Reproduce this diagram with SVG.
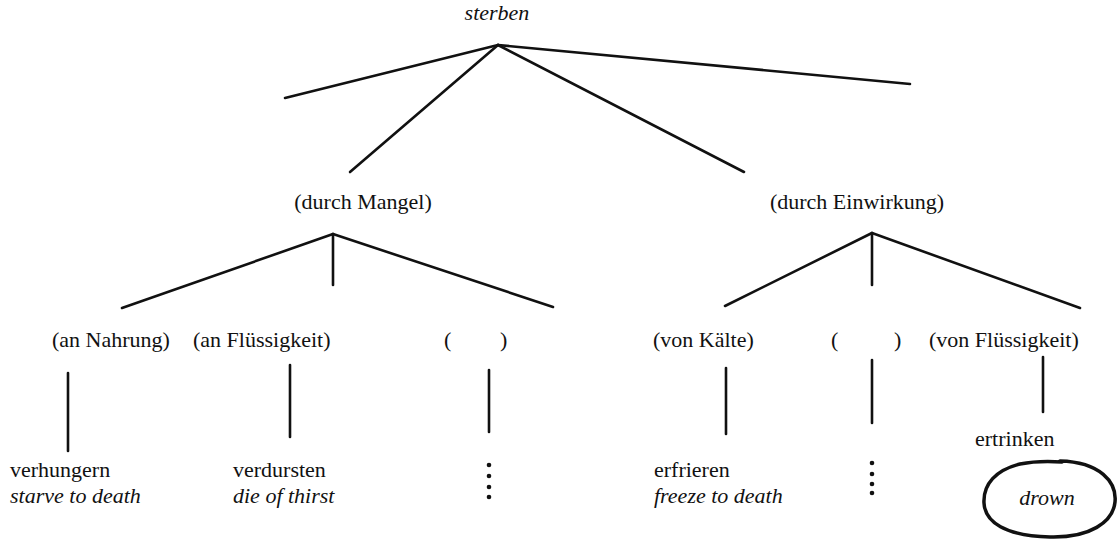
<svg xmlns="http://www.w3.org/2000/svg" width="1117" height="540" viewBox="0 0 1117 540">
<style>
text{font-size:22px;fill:#111}
.i{font-style:italic}
.m{text-anchor:middle}
.e line{stroke:#111;stroke-width:2.6;stroke-linecap:round}
.dot{fill:#111}
</style>
<rect width="1117" height="540" fill="#fff"/>
<g class="e" id="connectors">
<line x1="498" y1="45" x2="285" y2="98"/>
<line x1="498" y1="45" x2="350" y2="172"/>
<line x1="498" y1="45" x2="744" y2="172"/>
<line x1="498" y1="45" x2="910" y2="84"/>
<line x1="333" y1="234" x2="122" y2="308"/>
<line x1="333" y1="234" x2="333" y2="285"/>
<line x1="333" y1="234" x2="553" y2="307"/>
<line x1="872" y1="233" x2="725" y2="306"/>
<line x1="872" y1="233" x2="872" y2="285"/>
<line x1="872" y1="233" x2="1080" y2="308"/>
<line x1="68" y1="373" x2="68" y2="451"/>
<line x1="290" y1="365" x2="290" y2="437"/>
<line x1="489" y1="370" x2="489" y2="432"/>
<line x1="726" y1="368" x2="726" y2="434"/>
<line x1="872" y1="360" x2="872" y2="423"/>
<line x1="1043" y1="357" x2="1043" y2="412"/>
</g>
<g font-family="'Liberation Serif', 'DejaVu Serif', serif">
<g id="n-sterben"><text class="i m" x="497" y="20">sterben</text></g>
<g id="n-mangel"><text class="m" x="363" y="209">(durch Mangel)</text></g>
<g id="n-einwirkung"><text class="m" x="857" y="209">(durch Einwirkung)</text></g>
<g id="n-nahrung"><text x="52" y="347">(an Nahrung)</text></g>
<g id="n-fluessigkeit1"><text x="193" y="347">(an Flüssigkeit)</text></g>
<g id="n-empty1"><text x="444" y="347">(</text><text x="500" y="347">)</text></g>
<g id="n-kaelte"><text x="653" y="347">(von Kälte)</text></g>
<g id="n-empty2"><text x="831" y="347">(</text><text x="894" y="347">)</text></g>
<g id="n-fluessigkeit2"><text x="929" y="347">(von Flüssigkeit)</text></g>
<g id="n-verhungern"><text x="10" y="477">verhungern</text><text class="i" x="10" y="503">starve to death</text></g>
<g id="n-verdursten"><text x="233" y="477">verdursten</text><text class="i" x="233" y="503">die of thirst</text></g>
<g id="n-dots1"><circle class="dot" cx="489" cy="465" r="2.3"/><circle class="dot" cx="489" cy="476" r="2.3"/><circle class="dot" cx="489" cy="487" r="2.3"/><circle class="dot" cx="489" cy="497" r="2.3"/></g>
<g id="n-erfrieren"><text x="654" y="477">erfrieren</text><text class="i" x="654" y="503">freeze to death</text></g>
<g id="n-dots2"><circle class="dot" cx="872" cy="463" r="2.3"/><circle class="dot" cx="872" cy="474" r="2.3"/><circle class="dot" cx="872" cy="484" r="2.3"/><circle class="dot" cx="872" cy="493" r="2.3"/></g>
<g id="n-ertrinken"><text x="975" y="446">ertrinken</text></g>
<g id="n-drown"><path d="M1060 461 C1100 462 1117 482 1115 502 C1113 522 1090 538 1050 537 C1005 536 985 522 984 503 C983 484 996 470 1020 464 C1035 461 1048 461 1062 462" fill="none" stroke="#111" stroke-width="3.5" stroke-linecap="round"/><text class="i m" x="1047" y="505">drown</text></g>
</g>
</svg>
